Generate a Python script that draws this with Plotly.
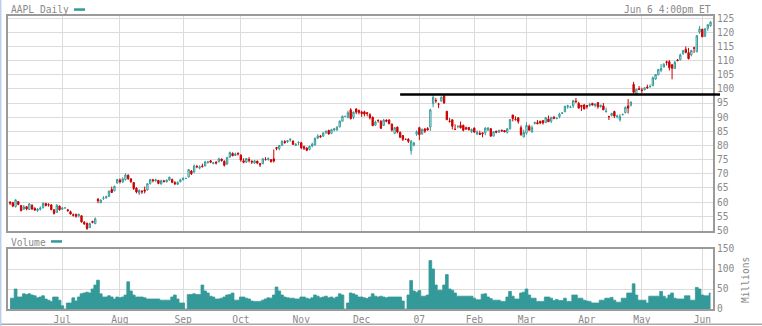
import pandas as pd
import plotly.graph_objects as go

# ---------------- text ----------------
TITLE = "AAPL Daily"
STAMP = "Jun 6 4:00pm ET"
VOLUME_LABEL = "Volume"
VOLUME_UNIT = "Millions"

# ---------------- calendar ----------------
FIRST_DAY = "2006-06-06"
LAST_DAY = "2007-06-06"
# 2007 market holidays are absent; 2006 holidays appear in the feed as flat bars
CLOSED_2007 = ["2007-01-01", "2007-01-02", "2007-01-15", "2007-02-19", "2007-04-06", "2007-05-28"]

RESISTANCE = 98.0
RESISTANCE_FROM = "2006-12-21"
PRICE_TICKS = list(range(50, 130, 5))
VOLUME_TICKS = [0, 50, 100, 150]

# ---------------- prices (one row per month) ----------------
OPEN = [
    60.0, 59.8, 58.4, 60.2, 58.8, 57.6, 58.4, 57.4, 58.9, 57.8, 57.0, 57.5, 58.0, 59.5, 59.1, 59.0, 57.3, 56.4, 58.6,
    57.5, 57.95, 57.3, 56.6, 55.5, 55.7, 55.2, 55.2, 52.9, 52.5, 51.0, 53.2, 52.4, 61.0, 59.8, 61.3, 61.5, 62.0, 64.5, 64.0, 66.8,
    67.8, 67.1, 68.0, 69.5, 68.2, 66.9, 64.9, 63.2, 63.8, 64.3, 64.3, 66.6, 67.9, 67.5, 67.7, 66.4, 67.5, 67.2, 67.8, 68.0, 66.9, 66.3, 67.2,
    68.0, 68.4, 68.9, 71.0, 70.6, 72.6, 72.0, 72.8, 72.8, 74.0, 74.6, 73.6, 74.1, 74.3, 75.2, 74.4, 73.4, 75.9, 77.2, 76.5, 77.3,
    76.6, 74.6, 74.1, 75.1, 74.4, 73.8, 74.5, 73.6, 73.6, 75.0, 75.0, 75.0, 75.3, 79.3, 78.9, 80.0, 81.4, 81.3, 81.9, 81.6, 80.0, 81.0,
    81.0, 79.6, 79.1, 78.6, 79.8, 80.2, 82.6, 83.4, 83.3, 84.5, 85.3, 84.3, 85.5, 85.5, 86.6, 88.6, 90.3, 89.9, 92.6, 90.0, 92.9, 92.4,
    91.8, 91.9, 91.6, 90.9, 90.0, 87.2, 88.9, 88.6, 87.1, 89.0, 89.0, 87.6, 84.3, 86.5, 84.7, 83.5, 82.2, 82.2, 78.2, 80.2, 84.0,
    86.3, 84.1, 85.8, 86.0, 86.5, 94.8, 95.9, 94.6, 95.7, 97.6, 92.1, 88.6, 89.1, 85.7, 86.7, 87.1, 87.1, 86.3, 86.4, 84.9,
    86.2, 84.1, 84.3, 84.5, 84.5, 85.4, 85.9, 83.3, 85.1, 84.7, 85.4, 85.3, 84.7, 86.0, 90.8, 89.2, 89.8, 86.3, 83.0,
    84.4, 86.8, 84.8, 87.8, 88.1, 88.6, 88.8, 88.1, 89.4, 88.6, 90.0, 89.5, 90.2, 91.4, 92.0, 93.7, 93.4, 94.0, 95.7, 94.9, 94.2, 94.3,
    94.1, 94.1, 94.9, 94.1, 95.2, 93.7, 94.0, 92.0, 90.2, 90.6, 92.0, 90.2, 89.1, 90.9, 91.6, 94.0, 94.2, 101.6, 98.2, 100.1,
    99.6, 99.7, 100.7, 100.8, 101.1, 103.5, 104.9, 106.6, 107.7, 109.6, 109.6, 108.5, 107.2, 110.2, 110.3, 112.5, 114.0, 112.8, 112.0, 114.5, 113.1, 120.1,
    121.1, 118.6, 121.4, 122.3,
]
HIGH = [
    60.3, 60.0, 61.0, 60.4, 59.0, 59.0, 58.6, 59.6, 59.2, 58.2, 57.9, 58.5, 59.9, 59.8, 59.6, 59.3, 57.5, 59.3, 58.8,
    58.2, 57.95, 57.6, 57.0, 56.0, 55.9, 55.9, 55.3, 53.3, 52.8, 52.8, 53.4, 54.6, 61.5, 61.0, 62.1, 62.3, 64.0, 65.5, 65.8, 68.2,
    68.4, 68.8, 70.2, 69.8, 68.5, 67.0, 65.3, 64.5, 64.3, 65.5, 66.7, 68.2, 68.2, 68.3, 67.8, 67.9, 67.9, 68.0, 69.0, 68.3, 67.4, 67.3, 68.3,
    68.8, 68.4, 71.7, 71.3, 73.3, 73.2, 73.0, 73.6, 74.6, 74.6, 74.9, 74.2, 74.5, 75.7, 75.4, 74.8, 76.0, 77.8, 77.6, 77.5, 77.5,
    76.9, 75.5, 75.6, 75.9, 74.8, 74.9, 74.6, 73.8, 75.5, 75.9, 75.8, 75.2, 78.6, 79.5, 80.2, 81.8, 81.9, 81.9, 82.5, 81.8, 80.9, 81.5,
    81.3, 80.0, 79.4, 80.0, 81.0, 82.9, 84.0, 83.7, 84.8, 85.4, 85.6, 85.9, 86.2, 86.8, 88.9, 90.6, 90.3, 92.3, 93.2, 92.0, 93.2, 92.7,
    92.3, 92.3, 91.8, 91.4, 90.2, 88.8, 89.2, 88.9, 89.4, 89.2, 89.3, 87.7, 86.6, 86.7, 84.9, 83.7, 82.2, 82.6, 82.0, 81.3, 85.4,
    86.6, 86.0, 86.2, 86.5, 93.0, 97.8, 96.8, 95.1, 97.3, 97.6, 92.1, 89.7, 89.2, 87.5, 87.2, 88.5, 87.4, 86.7, 86.5, 86.0,
    86.3, 85.3, 85.2, 84.5, 86.4, 86.5, 86.2, 85.0, 85.2, 85.6, 85.6, 85.4, 86.2, 89.3, 90.8, 90.3, 90.0, 87.1, 85.6,
    88.2, 87.4, 87.1, 88.3, 89.0, 88.7, 88.9, 90.0, 90.6, 90.0, 90.4, 90.0, 91.6, 91.8, 94.0, 94.4, 94.1, 95.9, 96.8, 95.4, 94.2, 94.7,
    94.3, 95.1, 95.1, 94.7, 95.3, 94.3, 95.0, 93.4, 90.5, 91.5, 92.3, 90.9, 91.1, 91.2, 93.8, 96.4, 95.4, 102.5, 100.0, 101.0,
    100.4, 100.5, 101.5, 101.6, 104.4, 105.2, 107.0, 108.8, 109.1, 110.0, 110.2, 108.8, 109.9, 110.6, 112.5, 113.8, 115.0, 114.5, 113.8, 114.9, 119.0, 122.2,
    121.2, 121.4, 122.7, 123.9,
]
LOW = [
    59.0, 58.2, 58.1, 58.9, 56.7, 57.2, 57.1, 57.2, 57.2, 56.9, 56.6, 57.0, 57.8, 58.5, 58.4, 57.1, 55.6, 56.3, 57.0,
    57.3, 57.95, 56.6, 55.6, 54.9, 54.5, 54.6, 52.8, 52.0, 50.2, 50.8, 52.5, 52.2, 59.6, 59.6, 60.8, 61.2, 61.9, 63.2, 63.8, 66.5,
    66.6, 66.8, 67.6, 67.9, 66.8, 64.3, 63.1, 62.5, 62.9, 63.1, 64.1, 66.2, 67.0, 67.2, 66.3, 66.2, 66.9, 66.9, 67.5, 66.7, 66.0, 66.0, 67.0,
    67.6, 68.4, 68.7, 69.6, 70.4, 72.0, 71.6, 72.2, 72.6, 73.6, 73.8, 73.4, 73.3, 74.0, 74.3, 72.6, 73.2, 75.6, 76.2, 76.3, 76.5,
    74.3, 73.7, 73.9, 74.0, 73.5, 73.5, 73.4, 72.4, 73.4, 74.8, 74.7, 74.0, 74.0, 78.3, 78.3, 79.8, 80.6, 80.9, 81.4, 80.3, 79.8, 80.1,
    78.7, 78.4, 78.0, 78.3, 79.4, 80.0, 82.3, 82.7, 83.1, 84.1, 83.8, 84.0, 85.0, 85.2, 86.4, 88.5, 90.3, 89.6, 89.2, 89.3, 91.1, 91.0,
    90.1, 90.3, 90.3, 89.2, 86.9, 86.9, 88.1, 85.8, 86.9, 88.2, 87.5, 84.9, 84.0, 84.3, 82.7, 81.6, 82.2, 80.9, 76.8, 79.7, 83.4,
    81.9, 83.8, 84.4, 85.3, 85.2, 93.5, 95.1, 93.2, 95.5, 94.8, 89.1, 88.1, 85.7, 85.5, 86.1, 86.0, 85.0, 85.5, 85.3, 84.4,
    84.7, 83.7, 83.9, 82.9, 83.6, 85.4, 83.2, 83.3, 84.3, 84.5, 84.8, 84.7, 84.2, 85.6, 88.5, 88.9, 87.7, 83.4, 83.0,
    83.8, 85.3, 84.5, 87.4, 87.5, 87.5, 87.4, 88.0, 88.4, 87.9, 89.3, 89.3, 89.6, 91.1, 91.7, 93.0, 93.3, 93.3, 95.0, 93.2, 92.2, 92.8,
    93.0, 93.7, 94.1, 93.5, 93.0, 93.4, 92.6, 91.6, 89.0, 90.3, 89.7, 89.6, 88.5, 90.6, 91.4, 91.3, 93.8, 98.3, 97.7, 99.7,
    98.6, 99.5, 100.1, 100.5, 101.0, 103.2, 104.9, 105.9, 107.7, 108.3, 106.5, 103.4, 107.2, 109.8, 110.1, 112.0, 112.6, 110.4, 111.5, 112.7, 113.0, 119.5,
    118.3, 118.3, 120.5, 122.0,
]
CLOSE = [
    59.7, 58.6, 60.8, 59.2, 57.0, 58.3, 57.6, 59.4, 57.6, 57.2, 57.5, 57.9, 59.6, 58.8, 59.0, 57.4, 56.0, 58.9, 57.3,
    57.95, 57.95, 57.0, 55.8, 55.4, 55.0, 55.7, 53.0, 52.3, 50.7, 52.4, 52.9, 54.1, 60.5, 60.7, 61.4, 61.9, 63.9, 63.4, 65.6, 68.0,
    67.2, 68.2, 69.6, 68.3, 67.2, 64.8, 63.6, 64.1, 63.7, 63.9, 66.5, 68.0, 67.6, 67.9, 66.6, 67.6, 67.3, 67.8, 68.8, 67.0, 66.5, 67.0, 67.9,
    68.4, 68.4, 71.5, 70.0, 72.8, 72.5, 72.5, 72.6, 74.2, 74.2, 74.1, 73.9, 73.8, 75.3, 74.7, 73.0, 75.8, 77.6, 76.4, 77.0, 77.0,
    74.9, 74.1, 75.4, 74.8, 74.2, 74.6, 73.8, 73.2, 75.3, 75.0, 75.4, 74.3, 74.5, 79.0, 80.0, 81.5, 81.1, 81.7, 82.2, 80.4, 80.4, 81.1,
    79.2, 79.0, 78.3, 79.7, 80.5, 82.5, 83.3, 83.1, 84.4, 85.0, 84.1, 85.6, 85.9, 86.5, 88.6, 90.3, 90.3, 91.6, 89.5, 91.8, 91.8, 91.7,
    91.3, 91.1, 91.3, 89.8, 87.0, 88.3, 88.8, 86.1, 89.0, 88.6, 87.7, 85.5, 86.3, 84.8, 82.9, 82.2, 82.2, 81.5, 81.5, 80.9, 84.8,
    83.8, 85.7, 85.1, 85.5, 92.6, 97.0, 95.8, 94.6, 97.1, 95.0, 89.1, 88.5, 86.8, 85.7, 86.7, 86.3, 85.4, 85.9, 85.6, 85.7,
    84.7, 84.8, 83.9, 84.2, 86.2, 86.2, 83.3, 84.9, 84.7, 85.3, 85.2, 84.8, 85.9, 89.2, 89.5, 89.1, 88.5, 83.9, 84.6,
    87.1, 85.4, 86.3, 88.2, 87.7, 88.0, 88.0, 89.9, 88.4, 90.0, 89.6, 89.6, 91.1, 91.5, 93.9, 94.0, 93.5, 95.9, 95.5, 93.2, 93.8, 92.9,
    93.7, 94.5, 94.3, 94.7, 93.7, 94.3, 92.6, 92.2, 90.2, 91.4, 90.4, 90.4, 90.3, 91.0, 93.5, 93.2, 95.4, 98.8, 99.9, 99.8,
    99.5, 100.4, 100.4, 100.8, 103.9, 105.1, 106.9, 107.3, 108.7, 109.4, 107.5, 107.3, 109.4, 110.0, 112.0, 113.5, 112.9, 110.7, 113.6, 114.4, 118.8, 121.2,
    118.4, 121.3, 122.7, 123.6,
]
# volume, millions of shares
VOLUME = [
    27, 27, 50, 30, 30, 38, 36, 38, 35, 33, 28, 30, 33, 25, 22, 19, 30, 30, 22,
    8, 0, 15, 15, 28, 20, 30, 38, 40, 42, 40, 50, 60, 72, 38, 30, 30, 33, 30, 25, 30,
    28, 30, 35, 68, 45, 35, 30, 30, 30, 28, 25, 25, 25, 25, 25, 22, 22, 22, 22, 30, 35, 25, 15,
    15, 0, 36, 36, 38, 36, 36, 60, 45, 40, 32, 30, 25, 25, 27, 30, 35, 36, 40, 22, 22,
    30, 30, 27, 25, 20, 19, 19, 19, 22, 25, 28, 27, 35, 55, 45, 35, 30, 28, 27, 27, 25, 25,
    30, 30, 27, 25, 28, 35, 32, 28, 30, 32, 28, 30, 27, 30, 38, 35, 0, 15, 40, 38, 35, 30,
    30, 28, 26, 30, 38, 32, 30, 32, 30, 28, 30, 30, 30, 30, 30, 20, 0, 35, 71, 45, 42,
    46, 32, 32, 35, 121, 100, 60, 47, 47, 60, 86, 50, 47, 40, 32, 32, 32, 32, 32, 32,
    27, 23, 23, 37, 38, 30, 26, 22, 22, 22, 19, 19, 30, 44, 32, 25, 25, 40, 42,
    50, 35, 27, 27, 19, 19, 19, 30, 30, 27, 21, 24, 21, 21, 27, 19, 19, 35, 35, 27, 27, 22,
    20, 19, 15, 15, 15, 22, 22, 27, 27, 29, 22, 17, 17, 27, 27, 40, 40, 63, 35, 22,
    22, 22, 15, 32, 32, 32, 32, 44, 32, 27, 35, 40, 27, 25, 25, 25, 33, 33, 22, 22, 54, 50,
    35, 33, 33, 40,
]

# ---------------- style ----------------
TEAL = "#339999"
RED = "#cc0000"
GRID = "#dcdcdc"
FRAME = "#9a9a9a"
TEXT = "#8a8a8a"
FONT = "DejaVu Sans Mono"
W, H = 762, 326
PLOT_L, PLOT_R = 8, 713
PRICE_TOP, PRICE_BOT = 16, 231
VOL_TOP, VOL_BOT = 249, 309
X_RANGE = [-0.76, 255.9]
PRICE_RANGE = [49.8, 125.76]
VOL_RANGE = [0, 150]

dates = pd.bdate_range(FIRST_DAY, LAST_DAY)
dates = dates[~dates.isin(pd.to_datetime(CLOSED_2007))]
idx = list(range(len(dates)))

tick_pos, tick_txt = [], []
for i in range(1, len(dates)):
    if dates[i].month != dates[i - 1].month:
        tick_pos.append(i)
        tick_txt.append(dates[i].strftime("%y") if dates[i].month == 1 else dates[i].strftime("%b"))


def px_x(px):
    return (px - PLOT_L) / (PLOT_R - PLOT_L)


def px_y(py):
    return (VOL_BOT - py) / (VOL_BOT - PRICE_TOP)


fig = go.Figure()
fig.add_trace(go.Candlestick(
    x=idx, open=OPEN, high=HIGH, low=LOW, close=CLOSE,
    increasing=dict(line=dict(color=TEAL, width=1), fillcolor="white"),
    decreasing=dict(line=dict(color=RED, width=1), fillcolor=RED),
    whiskerwidth=0, showlegend=False, hoverinfo="skip", xaxis="x", yaxis="y",
))
fig.add_trace(go.Scatter(
    x=idx, y=VOLUME, mode="lines", line=dict(width=0.8, shape="hvh", color=TEAL),
    fill="tozeroy", fillcolor=TEAL, showlegend=False, hoverinfo="skip", xaxis="x2", yaxis="y2",
))

axis_common = dict(showline=True, linecolor=FRAME, linewidth=2, mirror=True, zeroline=False,
                   gridcolor=GRID, gridwidth=1, fixedrange=True, ticks="", automargin=False)
plot_h = VOL_BOT - PRICE_TOP
fig.update_layout(
    width=W, height=H,
    margin=dict(l=PLOT_L, r=W - PLOT_R, t=PRICE_TOP, b=H - VOL_BOT, autoexpand=False),
    paper_bgcolor="white", plot_bgcolor="white",
    font=dict(family=FONT, size=9.6, color=TEXT),
    boxgap=0.3,
    xaxis=dict(axis_common, domain=[0, 1], anchor="y", range=X_RANGE, tickvals=tick_pos,
               showticklabels=False, rangeslider=dict(visible=False)),
    xaxis2=dict(axis_common, domain=[0, 1], anchor="y2", range=X_RANGE, tickvals=tick_pos,
                ticktext=tick_txt, showticklabels=True, tickfont=dict(size=9.6, color=TEXT)),
    yaxis=dict(axis_common, domain=[(VOL_BOT - PRICE_BOT) / plot_h, 1], anchor="x", side="right",
               range=PRICE_RANGE, tickvals=PRICE_TICKS, tickfont=dict(size=9.6, color=TEXT)),
    yaxis2=dict(axis_common, domain=[0, (VOL_BOT - VOL_TOP) / plot_h], anchor="x2", side="right",
                range=VOL_RANGE, tickvals=VOLUME_TICKS, tickfont=dict(size=9.6, color=TEXT)),
)

res_i = dates.get_loc(pd.Timestamp(RESISTANCE_FROM))
res_x0 = (res_i - X_RANGE[0]) / (X_RANGE[1] - X_RANGE[0])
fig.add_shape(type="line", xref="paper", yref="y", x0=res_x0, x1=px_x(720), y0=RESISTANCE, y1=RESISTANCE,
              line=dict(color="black", width=2.5))

# legend dashes next to the panel titles
fig.add_shape(type="rect", xref="paper", yref="paper", x0=px_x(74), x1=px_x(85), y0=px_y(10.8), y1=px_y(8.3),
              fillcolor=TEAL, line=dict(width=0))
fig.add_shape(type="rect", xref="paper", yref="paper", x0=px_x(51), x1=px_x(62), y0=px_y(242.7), y1=px_y(240.2),
              fillcolor=TEAL, line=dict(width=0))
# page edges
fig.add_shape(type="line", xref="paper", yref="paper", x0=px_x(0), x1=px_x(W), y0=px_y(324.3), y1=px_y(324.3),
              line=dict(color="#a8a8a8", width=1.5))
fig.add_shape(type="line", xref="paper", yref="paper", x0=px_x(0.7), x1=px_x(0.7), y0=px_y(0), y1=px_y(H),
              line=dict(color="#b8d0ec", width=1.5))

ann = dict(showarrow=False, xref="paper", yref="paper", font=dict(family=FONT, size=9.6, color=TEXT))
fig.add_annotation(ann, text=TITLE, x=px_x(9), y=px_y(10), xanchor="left", yanchor="middle")
fig.add_annotation(ann, text=STAMP, x=px_x(713), y=px_y(10), xanchor="right", yanchor="middle")
fig.add_annotation(ann, text=VOLUME_LABEL, x=px_x(9), y=px_y(242), xanchor="left", yanchor="middle")
fig.add_annotation(ann, text=VOLUME_UNIT, x=px_x(745), y=px_y(280), xanchor="center", yanchor="middle",
                   textangle=-90)

fig.write_html("out.html")
